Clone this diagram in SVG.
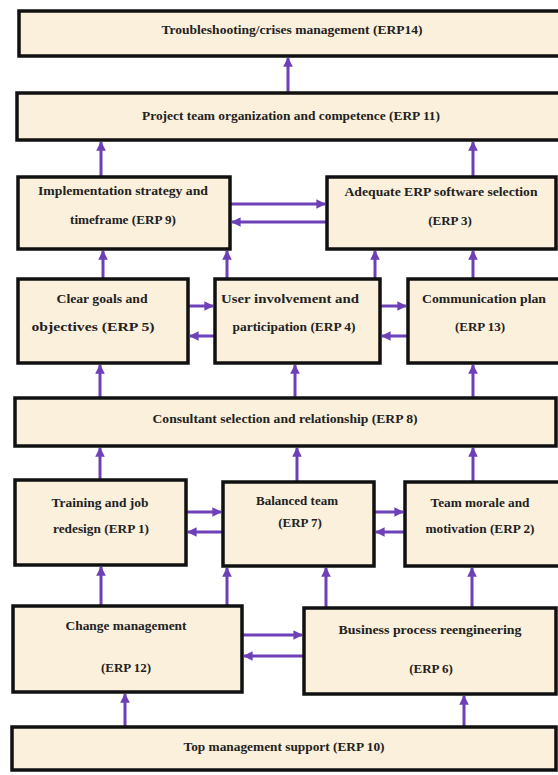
<svg xmlns="http://www.w3.org/2000/svg" width="558" height="775" viewBox="0 0 558 775">
<style>
.box{fill:#fbf0dc;stroke:#111;stroke-width:3.5}
.t{font-family:"Liberation Serif","Times New Roman",serif;font-size:13px;font-weight:bold;fill:#222;text-anchor:middle}
.c{stroke:#6d40b8;stroke-width:3;fill:none;marker-end:url(#ah)}
</style>
<defs>
<marker id="ah" viewBox="0 0 10 10" refX="9" refY="5" markerWidth="3.2" markerHeight="3.2" orient="auto" markerUnits="strokeWidth">
<path d="M0,0 L10,5 L0,10 z" fill="#6d40b8"/>
</marker>
</defs>
<rect width="558" height="775" fill="#ffffff"/>
<g id="connectors">
<line class="c" x1="288" y1="92" x2="288" y2="58"/>
<line class="c" x1="101" y1="176" x2="101" y2="142"/>
<line class="c" x1="473" y1="176" x2="473" y2="142"/>
<line class="c" x1="103" y1="278" x2="103" y2="251"/>
<line class="c" x1="227" y1="278" x2="227" y2="251"/>
<line class="c" x1="375" y1="278" x2="375" y2="251"/>
<line class="c" x1="473" y1="278" x2="473" y2="251"/>
<line class="c" x1="100" y1="397" x2="100" y2="365"/>
<line class="c" x1="295" y1="397" x2="295" y2="365"/>
<line class="c" x1="473" y1="397" x2="473" y2="365"/>
<line class="c" x1="100" y1="479" x2="100" y2="448"/>
<line class="c" x1="297" y1="481" x2="297" y2="448"/>
<line class="c" x1="473" y1="481" x2="473" y2="448"/>
<line class="c" x1="101" y1="605" x2="101" y2="567"/>
<line class="c" x1="227" y1="605" x2="227" y2="568"/>
<line class="c" x1="326" y1="607" x2="326" y2="568"/>
<line class="c" x1="472" y1="607" x2="472" y2="568"/>
<line class="c" x1="125" y1="726" x2="125" y2="694"/>
<line class="c" x1="464" y1="726" x2="464" y2="696"/>
<line class="c" x1="231" y1="204" x2="325" y2="204"/>
<line class="c" x1="326" y1="222" x2="232" y2="222"/>
<line class="c" x1="189" y1="306" x2="213" y2="306"/>
<line class="c" x1="214" y1="336" x2="190" y2="336"/>
<line class="c" x1="381" y1="306" x2="406" y2="306"/>
<line class="c" x1="407" y1="336" x2="382" y2="336"/>
<line class="c" x1="187" y1="512" x2="221" y2="512"/>
<line class="c" x1="222" y1="532" x2="188" y2="532"/>
<line class="c" x1="375" y1="512" x2="403" y2="512"/>
<line class="c" x1="404" y1="532" x2="376" y2="532"/>
<line class="c" x1="243" y1="635" x2="302" y2="635"/>
<line class="c" x1="303" y1="656" x2="244" y2="656"/>
</g>
<g id="erp14"><rect class="box" x="19" y="11" width="545" height="45"/><text class="t" x="292" y="34" textLength="261" lengthAdjust="spacingAndGlyphs">Troubleshooting/crises management (ERP14)</text></g>
<g id="erp11"><rect class="box" x="17" y="93" width="547" height="47"/><text class="t" x="291" y="120" textLength="298" lengthAdjust="spacingAndGlyphs">Project team organization and competence (ERP 11)</text></g>
<g id="erp9"><rect class="box" x="18" y="177" width="212" height="72"/><text class="t" x="123" y="195" textLength="170" lengthAdjust="spacingAndGlyphs">Implementation strategy and</text><text class="t" x="123" y="224" textLength="106" lengthAdjust="spacingAndGlyphs">timeframe (ERP 9)</text></g>
<g id="erp3"><rect class="box" x="327" y="177" width="229" height="72"/><text class="t" x="441" y="196" textLength="193" lengthAdjust="spacingAndGlyphs">Adequate ERP software selection</text><text class="t" x="450" y="225">(ERP 3)</text></g>
<g id="erp5"><rect class="box" x="18" y="279" width="170" height="84"/><text class="t" x="102" y="303" textLength="91" lengthAdjust="spacingAndGlyphs">Clear goals and</text><text class="t" x="93" y="331" textLength="123" lengthAdjust="spacingAndGlyphs">objectives (ERP 5)</text></g>
<g id="erp4"><rect class="box" x="215" y="279" width="165" height="84"/><text class="t" x="290" y="303" textLength="138" lengthAdjust="spacingAndGlyphs">User involvement and</text><text class="t" x="294" y="331" textLength="123" lengthAdjust="spacingAndGlyphs">participation (ERP 4)</text></g>
<g id="erp13"><rect class="box" x="408" y="279" width="156" height="84"/><text class="t" x="484" y="303" textLength="124" lengthAdjust="spacingAndGlyphs">Communication plan</text><text class="t" x="480" y="331">(ERP 13)</text></g>
<g id="erp8"><rect class="box" x="15" y="398" width="541" height="48"/><text class="t" x="285" y="423" textLength="265" lengthAdjust="spacingAndGlyphs">Consultant selection and relationship (ERP 8)</text></g>
<g id="erp1"><rect class="box" x="15" y="480" width="171" height="85"/><text class="t" x="100" y="507" textLength="97" lengthAdjust="spacingAndGlyphs">Training and job</text><text class="t" x="101" y="533" textLength="96" lengthAdjust="spacingAndGlyphs">redesign (ERP 1)</text></g>
<g id="erp7"><rect class="box" x="223" y="482" width="151" height="84"/><text class="t" x="297" y="505" textLength="82" lengthAdjust="spacingAndGlyphs">Balanced team</text><text class="t" x="300" y="527">(ERP 7)</text></g>
<g id="erp2"><rect class="box" x="405" y="482" width="159" height="84"/><text class="t" x="480" y="507" textLength="99" lengthAdjust="spacingAndGlyphs">Team morale and</text><text class="t" x="480" y="533" textLength="109" lengthAdjust="spacingAndGlyphs">motivation (ERP 2)</text></g>
<g id="erp12"><rect class="box" x="13" y="606" width="229" height="86"/><text class="t" x="126" y="630" textLength="121" lengthAdjust="spacingAndGlyphs">Change management</text><text class="t" x="126" y="672">(ERP 12)</text></g>
<g id="erp6"><rect class="box" x="304" y="608" width="252" height="86"/><text class="t" x="430" y="634" textLength="183" lengthAdjust="spacingAndGlyphs">Business process reengineering</text><text class="t" x="431" y="673">(ERP 6)</text></g>
<g id="erp10"><rect class="box" x="12" y="727" width="544" height="43"/><text class="t" x="284" y="751" textLength="201" lengthAdjust="spacingAndGlyphs">Top management support (ERP 10)</text></g>
</svg>
